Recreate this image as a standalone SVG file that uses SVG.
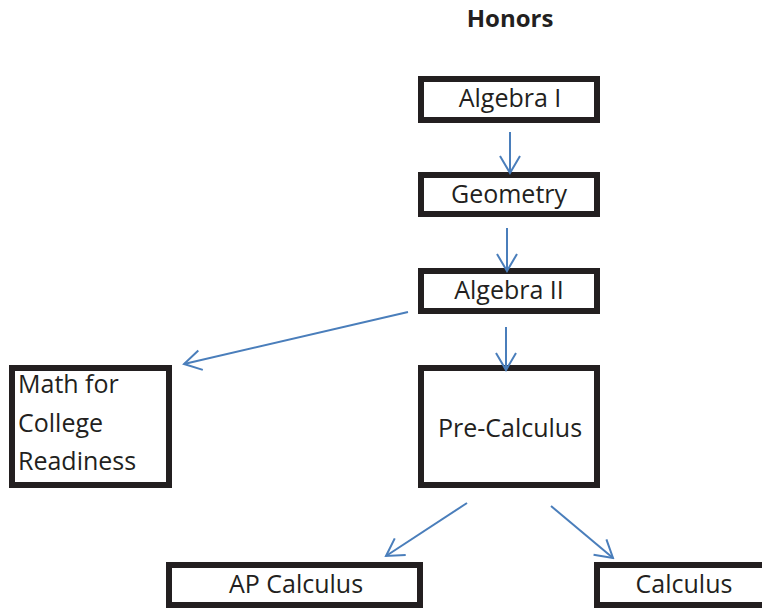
<svg xmlns="http://www.w3.org/2000/svg" width="762" height="608" viewBox="0 0 762 608">
  <style>
    .box { fill: #ffffff; stroke: #231f20; stroke-width: 6; }
    .lbl { font-family: "Open Sans", Lato, "Liberation Sans", sans-serif; font-size: 25px; fill: #231f20; }
    .c { text-anchor: middle; }
    .title { font-family: "Open Sans", Lato, "Liberation Sans", sans-serif; font-size: 24px; font-weight: bold; fill: #231f20; text-anchor: middle; }
    .edge { stroke: #4a7ebb; stroke-width: 2; fill: none; marker-end: url(#arr); }
  </style>
  <defs>
    <marker id="arr" markerUnits="userSpaceOnUse" viewBox="-20 -12 22 24" refX="0" refY="0" markerWidth="22" markerHeight="24" orient="auto">
      <path d="M-17,-10 L0,0 L-17,10" fill="none" stroke="#4a7ebb" stroke-width="2"/>
    </marker>
  </defs>
  <rect width="762" height="608" fill="#ffffff"/>
  <text class="title" x="510" y="27">Honors</text>

  <g id="algebra1">
    <rect class="box" x="421" y="79" width="176" height="41"/>
    <text class="lbl c" x="510" y="107">Algebra I</text>
  </g>
  <g id="geometry">
    <rect class="box" x="421" y="175" width="176" height="39"/>
    <text class="lbl c" x="509" y="203">Geometry</text>
  </g>
  <g id="algebra2">
    <rect class="box" x="421" y="271" width="176" height="40"/>
    <text class="lbl c" x="509" y="299">Algebra II</text>
  </g>
  <g id="mathcollege">
    <rect class="box" x="12" y="368" width="157" height="117"/>
    <text class="lbl" x="18" y="393">Math for</text>
    <text class="lbl" x="18" y="432">College</text>
    <text class="lbl" x="18" y="470">Readiness</text>
  </g>
  <g id="precalc">
    <rect class="box" x="421" y="368" width="176" height="117"/>
    <text class="lbl c" x="510" y="437">Pre-Calculus</text>
  </g>
  <g id="apcalc">
    <rect class="box" x="169" y="565" width="251" height="40"/>
    <text class="lbl c" x="296" y="593">AP Calculus</text>
  </g>
  <g id="calculus">
    <rect class="box" x="597" y="565" width="170" height="40"/>
    <text class="lbl c" x="684" y="593">Calculus</text>
  </g>

  <g id="connectors">
    <line class="edge" x1="510" y1="132" x2="510" y2="173"/>
    <line class="edge" x1="507" y1="228" x2="507" y2="271"/>
    <line class="edge" x1="506" y1="327" x2="506" y2="370"/>
    <line class="edge" x1="408" y1="312" x2="184" y2="364"/>
    <line class="edge" x1="467" y1="503" x2="386" y2="556"/>
    <line class="edge" x1="551" y1="506" x2="613" y2="558"/>
  </g>
</svg>
